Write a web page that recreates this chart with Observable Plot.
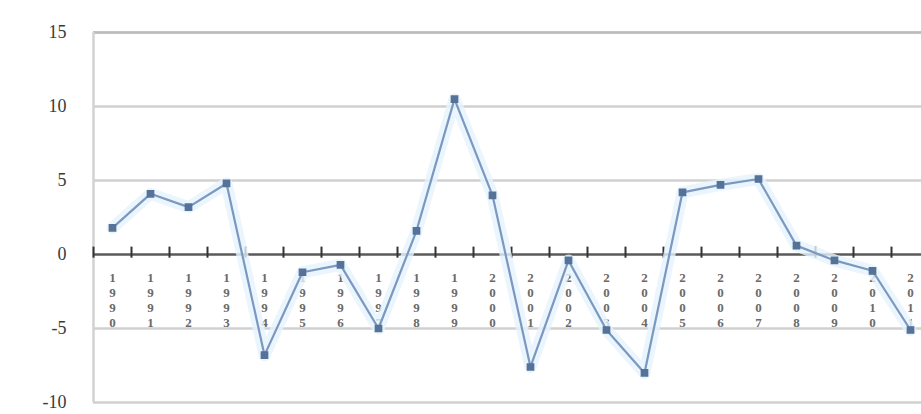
<!DOCTYPE html>
<html>
<head>
<meta charset="utf-8">
<script src="https://cdn.jsdelivr.net/npm/d3@7"></script>
<script src="https://cdn.jsdelivr.net/npm/@observablehq/plot@0.6"></script>
<style>
  html, body { margin: 0; padding: 0; background: #fff; }
</style>
</head>
<body>
<div id="chart"></div>
<script>
const categories = ["1990","1991","1992","1993","1994","1995","1996","1997","1998","1999","2000",
                    "2001","2002","2003","2004","2005","2006","2007","2008","2009","2010","2011"];
const values = [1.8, 4.1, 3.2, 4.8, -6.8, -1.2, -0.7, -5.0, 1.6, 10.5, 4.0,
                -7.6, -0.4, -5.1, -8.0, 4.2, 4.7, 5.1, 0.6, -0.4, -1.1, -5.1];
const yTicks = [15, 10, 5, 0, -5, -10];
const gridValues = [15, 10, 5, -5, -10];

const data = categories.map((c, i) => ({cat: c, v: values[i]}));
const stacked = c => c.split("").join("\n");

const chart = Plot.plot({
  width: 921,
  height: 414,
  marginLeft: 93,
  marginRight: 0,
  marginTop: 32,
  marginBottom: 12,
  style: {background: "#fff", overflow: "hidden"},
  x: {type: "band", domain: categories, range: [93, 929], padding: 0, axis: null},
  y: {domain: [-10, 15], ticks: yTicks, tickSize: 0, tickPadding: 28, label: null, tickFormat: d => String(d)},
  marks: [
    Plot.ruleY(gridValues, {stroke: "#d0d0d0", strokeWidth: 2.5}),
    Plot.ruleY([15], {stroke: "#bcbcbc", strokeWidth: 2.5}),
    Plot.ruleX([categories[0]], {dx: -19, y1: -10, y2: 15, stroke: "#d2d2d2", strokeWidth: 2.5}),
    Plot.axisY({ticks: yTicks, tickSize: 0, tickPadding: 27, fontSize: 18, fontFamily: "Liberation Serif", fill: "#3a3a3a", tickFormat: d => String(d)}),
    Plot.ruleY([0], {stroke: "#5a5a5a", strokeWidth: 2.5}),
    Plot.ruleX(categories, {x: d => d, dx: -19, y1: -0.25, y2: 0.5, stroke: "#333", strokeWidth: 2}),
    Plot.text(categories, {x: d => d, y: 0, text: d => stacked(d), dy: 17, lineAnchor: "top",
      lineHeight: 1.15, fontSize: 13, fontFamily: "Liberation Serif", fontWeight: "bold", fill: "#6a6a6a"}),
    Plot.line(data, {x: "cat", y: "v", stroke: "#e6f2fc", strokeWidth: 12, strokeOpacity: 0.8}),
    Plot.line(data, {x: "cat", y: "v", stroke: "#7a98c0", strokeWidth: 2.2}),
    Plot.dot(data, {x: "cat", y: "v", symbol: "square", r: 3.5, fill: "#557399", stroke: "#557399"})
  ]
});
document.getElementById("chart").appendChild(chart);
</script>
</body>
</html>
